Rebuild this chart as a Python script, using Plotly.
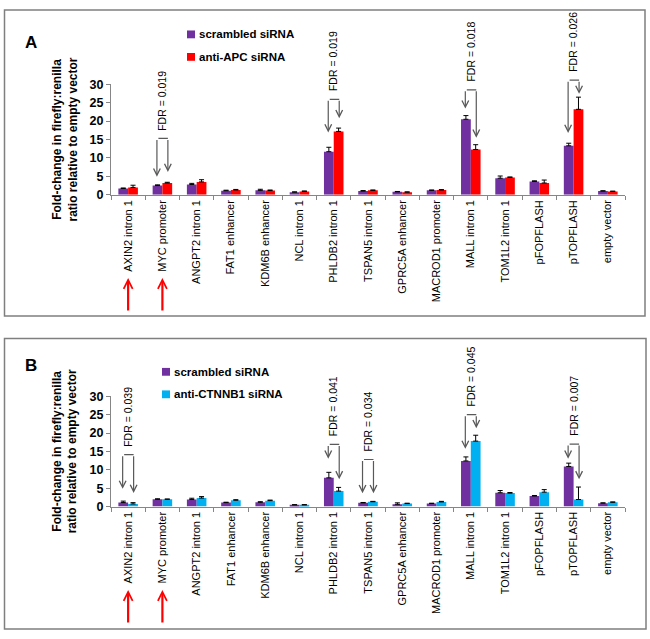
import plotly.graph_objects as go

# ---------------- data ----------------
categories = ["AXIN2 intron 1", "MYC promoter", "ANGPT2 intron 1", "FAT1 enhancer",
              "KDM6B enhancer", "NCL intron 1", "PHLDB2 intron 1", "TSPAN5 intron 1",
              "GPRC5A enhancer", "MACROD1 promoter", "MALL intron 1", "TOM1L2 intron 1",
              "pFOPFLASH", "pTOPFLASH", "empty vector"]

# Panel A
scr_A = [1.7, 2.5, 2.8, 1.1, 1.2, 0.7, 11.7, 1.0, 0.8, 1.2, 20.5, 4.5, 3.6, 13.3, 1.0]
scr_A_err = [0.15, 0.2, 0.3, 0.15, 0.3, 0.1, 1.2, 0.15, 0.1, 0.1, 1.0, 0.6, 0.2, 0.7, 0.1]
apc_A = [2.0, 3.2, 3.5, 1.3, 1.15, 0.9, 17.2, 1.2, 0.7, 1.3, 12.3, 4.7, 3.2, 23.2, 0.9]
apc_A_err = [0.6, 0.2, 0.6, 0.15, 0.15, 0.15, 0.9, 0.1, 0.1, 0.1, 1.3, 0.15, 0.8, 3.3, 0.1]

# Panel B
scr_B = [1.07, 1.95, 1.9, 1.07, 1.15, 0.45, 7.8, 1.0, 0.6, 0.8, 12.4, 3.75, 2.85, 10.9, 0.9]
scr_B_err = [0.4, 0.15, 0.35, 0.1, 0.15, 0.05, 1.5, 0.1, 0.4, 0.1, 1.1, 0.6, 0.15, 0.9, 0.1]
ctn_B = [0.7, 1.95, 2.3, 1.7, 1.6, 0.45, 4.2, 1.3, 0.8, 1.25, 17.8, 3.65, 3.9, 1.9, 1.15]
ctn_B_err = [0.35, 0.1, 0.4, 0.15, 0.15, 0.05, 1.0, 0.1, 0.1, 0.15, 1.6, 0.15, 0.7, 3.4, 0.1]

y_ticks = [0, 5, 10, 15, 20, 25, 30]

series_names_A = ["scrambled siRNA", "anti-APC siRNA"]
series_names_B = ["scrambled siRNA", "anti-CTNNB1 siRNA"]

# FDR brackets: (category index, label, bracket top, left arrow tip, right arrow tip)
fdr_A = [(1, "FDR = 0.019", 15.3, 4.9, 6.2),
         (6, "FDR = 0.019", 25.9, 16.9, 20.8),
         (10, "FDR = 0.018", 28.5, 23.4, 15.5),
         (13, "FDR = 0.026", 31.1, 16.8, 27.4)]
fdr_B = [(0, "FDR = 0.039", 14.1, 4.8, 3.7),
         (6, "FDR = 0.041", 16.9, 13.0, 7.4),
         (7, "FDR = 0.034", 12.8, 3.6, 3.6),
         (10, "FDR = 0.045", 25.0, 15.7, 21.3),
         (13, "FDR = 0.007", 17.0, 13.0, 7.4)]

highlighted = [0, 1]   # categories marked with red arrows

# ---------------- styling ----------------
W, H = 650, 639
def px(x):
    return x / W
def py(y):
    return 1 - y / H

Y_MAX = y_ticks[-1]
def yd(v):
    # value -> fraction of the y-axis domain (axis range is [0, Y_MAX])
    return v / Y_MAX

PURPLE = "#7030A0"
RED = "#FF0000"
BLUE = "#00B0F0"
GRAY = "#868686"
FONT = "Liberation Sans, Arial, sans-serif"

fig = go.Figure()

def add_bars(name, vals, errs, color, xa, ya):
    fig.add_trace(go.Bar(
        x=categories, y=vals, name=name,
        marker=dict(color=color, line=dict(width=0)),
        error_y=dict(type="data", array=errs, arrayminus=[0] * len(errs),
                     symmetric=False, color="black", thickness=1, width=2.5),
        xaxis=xa, yaxis=ya, showlegend=False))

add_bars(series_names_A[0], scr_A, scr_A_err, PURPLE, "x", "y")
add_bars(series_names_A[1], apc_A, apc_A_err, RED, "x", "y")
add_bars(series_names_B[0], scr_B, scr_B_err, PURPLE, "x2", "y2")
add_bars(series_names_B[1], ctn_B, ctn_B_err, BLUE, "x2", "y2")

xdom = [px(111), px(625)]
def xaxis_cfg(anchor):
    return dict(domain=xdom, anchor=anchor, type="category", showline=True,
                linecolor=GRAY, linewidth=1, ticks="outside", tickson="boundaries",
                ticklen=4, tickcolor=GRAY, tickangle=-90, showgrid=False,
                tickfont=dict(family=FONT, size=11, color="black"))

def yaxis_cfg(anchor, dom):
    return dict(domain=dom, anchor=anchor, range=[0, Y_MAX], tickvals=y_ticks,
                ticks="outside", ticklen=4, tickcolor=GRAY, showline=True,
                linecolor=GRAY, linewidth=1, showgrid=False, zeroline=False,
                tickfont=dict(family=FONT, size=12.5, color="black", weight="bold"))

yA = [py(192), py(79)]
yB = [py(510.7), py(398)]

annotations = []
shapes = []

def add_fdr(specs, xref, yaxis_id):
    offL, offR = -0.16, 0.16
    ydref = yaxis_id + " domain"
    for idx, label, top, tipL, tipR in specs:
        xl, xr = idx + offL, idx + offR
        common = dict(xref=xref, yref=ydref, axref=xref, ayref=ydref, text="",
                      showarrow=True, arrowcolor="#595959", arrowwidth=1.2,
                      standoff=0, startstandoff=0)
        annotations.append(dict(x=xl, y=yd(tipL), ax=xl, ay=yd(top), arrowhead=5, arrowsize=1.1, **common))
        annotations.append(dict(x=xr, y=yd(tipR), ax=xr, ay=yd(top), arrowhead=5, arrowsize=1.1, **common))
        annotations.append(dict(x=xr, y=yd(top), ax=xl, ay=yd(top), arrowhead=0, **common))
        annotations.append(dict(x=idx, y=yd(top), xref=xref, yref=ydref, text=label,
                                textangle=-90, showarrow=False, xanchor="center",
                                yanchor="bottom", yshift=6,
                                font=dict(family=FONT, size=10.5, color="black")))

add_fdr(fdr_A, "x", "y")
add_fdr(fdr_B, "x2", "y2")

# red arrows under highlighted categories
for xref, tip in (("x", 277), ("x2", 596)):
    for idx in highlighted:
        annotations.append(dict(x=idx, y=py(tip), xref=xref, yref="paper", ax=0, ay=34,
                                text="", showarrow=True, arrowhead=5, arrowsize=0.8,
                                arrowwidth=2.2, arrowcolor=RED, standoff=0))

# axis titles
for yc in (135.5, 454.3):
    annotations.append(dict(x=px(65), y=py(yc), xref="paper", yref="paper",
                            text="Fold-change in firefly:renilla<br>ratio relative to empty vector",
                            textangle=-90, showarrow=False, xanchor="center", yanchor="middle",
                            font=dict(family=FONT, size=12, color="black", weight="bold")))

# panel letters
annotations.append(dict(x=px(23), y=py(25), xref="paper", yref="paper", text="A",
                        showarrow=False, font=dict(family=FONT, size=17, color="black", weight="bold")))
annotations.append(dict(x=px(23), y=py(367), xref="paper", yref="paper", text="B",
                        showarrow=False, font=dict(family=FONT, size=17, color="black", weight="bold")))

# manual legends
def add_legend(x0, ys, names, colors):
    for yy, nm, col in zip(ys, names, colors):
        shapes.append(dict(type="rect", xref="paper", yref="paper",
                           x0=px(x0), x1=px(x0 + 8), y0=py(yy + 4), y1=py(yy - 4),
                           fillcolor=col, line=dict(width=0)))
        annotations.append(dict(x=px(x0 + 10), y=py(yy), xref="paper", yref="paper",
                                text=nm, showarrow=False, xanchor="left", yanchor="middle",
                                font=dict(family=FONT, size=11.5, color="black", weight="bold")))

add_legend(187, [28, 51], series_names_A, [PURPLE, RED])
add_legend(162, [373, 396], series_names_B, [PURPLE, BLUE])

# panel frames
shapes.append(dict(type="rect", xref="paper", yref="paper", x0=px(4.5), x1=px(645),
                   y0=py(316), y1=py(3), line=dict(color="#7f7f7f", width=1.5)))
shapes.append(dict(type="rect", xref="paper", yref="paper", x0=px(4.5), x1=px(646),
                   y0=py(636), y1=py(339), line=dict(color="#7f7f7f", width=1.5)))

fig.update_layout(
    width=W, height=H, margin=dict(l=0, r=0, t=0, b=0),
    paper_bgcolor="white", plot_bgcolor="white",
    barmode="group", bargap=0.43, bargroupgap=0,
    xaxis=xaxis_cfg("y"), yaxis=yaxis_cfg("x", yA),
    xaxis2=xaxis_cfg("y2"), yaxis2=yaxis_cfg("x2", yB),
    annotations=annotations, shapes=shapes, showlegend=False,
    font=dict(family=FONT),
)

fig.write_html("out.html", config={"displayModeBar": False},
               post_script="document.body.style.margin='0px';document.body.style.overflow='hidden';")
